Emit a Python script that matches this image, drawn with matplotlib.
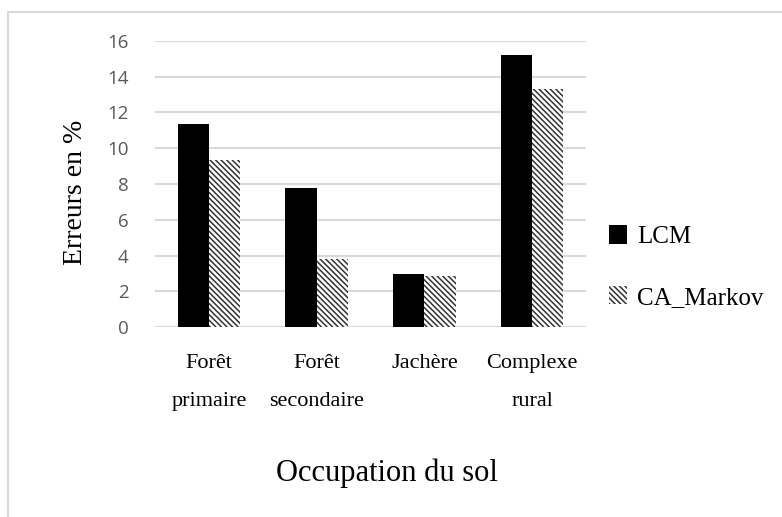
import matplotlib
matplotlib.use('Agg')
import matplotlib.pyplot as plt
import numpy as np
from matplotlib.patches import Rectangle

categories = ['Forêt\nprimaire', 'Forêt\nsecondaire', 'Jachère', 'Complexe\nrural']
lcm = [11.35, 7.8, 3.0, 15.2]
ca_markov = [9.35, 3.8, 2.88, 13.3]
yticks = [0, 2, 4, 6, 8, 10, 12, 14, 16]

plt.rcParams['hatch.linewidth'] = 1.1

fig = plt.figure(figsize=(7.82, 5.17), dpi=100)
W, H = 782, 517
ax = fig.add_axes([155 / W, 1 - 327.3 / H, 431 / W, 286.6 / H])

x = np.arange(len(categories))
w = 0.29
ax.bar(x - w / 2, lcm, w, color='black', label='LCM')
ax.bar(x + w / 2, ca_markov, w, color='white', edgecolor='#333333',
       linewidth=0, hatch='\\' * 6, label='CA_Markov')

ax.set_xlim(-0.5, 3.5)
ax.set_ylim(0, 16)
ax.set_yticks(yticks)
ax.set_yticklabels([str(t) for t in yticks], fontsize=13.5, color='#595959',
                   family='Open Sans')
ax.yaxis.grid(True, color='#d9d9d9', linewidth=1.5)
ax.set_axisbelow(True)
ax.tick_params(axis='both', length=0)
ax.tick_params(axis='y', pad=19)
for s in ax.spines.values():
    s.set_visible(False)
ax.set_xticks(x)
ax.set_xticklabels([])
for i, c in enumerate(categories):
    ax.text(i, -1.5, c, ha='center', va='top', fontsize=16,
            family='Liberation Serif', linespacing=2.35,
            transform=ax.transData)

ax.set_ylabel('Erreurs en %', fontsize=20, family='Liberation Serif')
ax.yaxis.set_label_coords(-67 / 431, 0.47)
fig.text(387 / W, 1 - 473 / H, 'Occupation du sol', ha='center', va='center',
         fontsize=22, family='Liberation Serif')

leg = ax.legend(loc='center left', bbox_to_anchor=(1.0, 0.21), frameon=False,
                prop={'family': 'Liberation Serif', 'size': 18},
                labelspacing=1.5, handlelength=0.75, handleheight=0.75,
                handletextpad=0.4)

fig.patches.append(Rectangle((8 / W, -0.1), 1, 1.1 - 12 / H, transform=fig.transFigure,
                             fill=False, edgecolor='#d9d9d9', linewidth=1.5))

fig.savefig('out.png', dpi=100)
